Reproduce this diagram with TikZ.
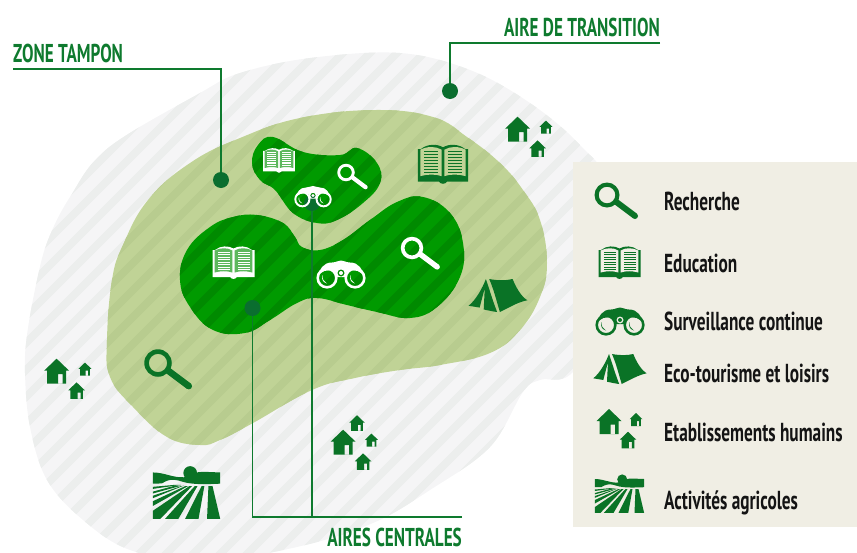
\documentclass[tikz,border=0pt]{standalone}
\usepackage{fontspec}
\setmainfont{PT Sans}[FakeStretch=0.665]
\usetikzlibrary{positioning,calc}

\definecolor{icongreen}{HTML}{0A7326}
\definecolor{linegreen}{HTML}{0E7A2E}
\definecolor{dotgreen}{HTML}{0A6E2F}
\definecolor{panelbg}{HTML}{F0EEE4}
\definecolor{outerbase}{HTML}{F5F5F6}
\definecolor{outerstripe}{HTML}{ECEEED}
\definecolor{midbase}{HTML}{C0D396}
\definecolor{midstripe}{HTML}{B8CC8F}
\definecolor{corebase}{HTML}{009A00}
\definecolor{corestripe}{HTML}{008A00}
\definecolor{pagegreen}{HTML}{5DB85D}

\newcommand{\outerpath}{plot[smooth cycle, tension=.6] coordinates {(400,53) (470,70) (530,103) (580,145) (610,190) (615,300) (573,372) (540,380) (523,392) (490,447) (430,490) (373,523) (297,547) (200,562) (130,550) (83,520) (47,480) (30,427) (25,373) (27,335) (37,280) (48,240) (70,197) (108,148) (200,93) (240,73) (310,58)}}
\newcommand{\midpath}{plot[smooth cycle, tension=.7] coordinates {(375,110) (433,117) (467,137) (500,163) (523,190) (540,220) (547,263) (540,297) (520,330) (490,353) (440,365) (400,370) (355,378) (312,390) (253,423) (220,440) (200,445) (167,437) (133,407) (110,377) (107,340) (112,280) (123,245) (148,200) (190,163) (240,138) (300,118)}}
\newcommand{\coreApath}{plot[smooth cycle, tension=.7] coordinates {(273,137) (303,152) (340,155) (357,148) (377,163) (380,183) (363,203) (337,220) (317,223) (293,213) (275,190) (260,180) (252,163) (258,145)}}
\newcommand{\coreBpath}{plot[smooth cycle, tension=.7] coordinates {(257,215) (283,223) (295,237) (302,247) (320,250) (343,240) (370,220) (397,202) (423,197) (450,213) (463,243) (460,277) (437,307) (410,318) (377,312) (347,305) (317,298) (297,303) (270,320) (245,333) (213,330) (190,307) (180,280) (187,250) (210,227) (233,217)}}

% striped area: path, base colour, stripe colour
\newcommand{\stripedarea}[3]{
    \begin{scope}
        \clip #1;
        \fill[#2] (0,0) rectangle (857,600);
        \foreach \c in {18,45,...,1500} {
            \draw[#3, line width=7.5pt] (\c,0) -- (\c-800,800);
        }
    \end{scope}
}

\tikzset{
    leader/.style={draw=linegreen, line width=1.4pt},
    dotnode/.style={circle, fill=dotgreen, inner sep=0pt, minimum size=16pt},
    zonelabel/.style={font=\bfseries\fontsize{25.8}{25.8}\selectfont, text=linegreen, inner sep=0pt},
    legendlabel/.style={font=\bfseries\fontsize{26}{26}\selectfont, text=black!92, inner sep=0pt, anchor=base west},
    pics/loupe/.style={code={
        \fill[#1, even odd rule] (0,0) circle (12.5) (0,0) circle (8.3);
        \fill[#1] (6.2,8.4) -- (9.8,3.6) -- (29.8,18.6) -- (26.2,23.4) -- cycle;
        \fill[#1] (28,21) circle (3);
    }},
    pics/book/.style 2 args={code={
        \fill[#1] (-21,-12) -- (-18.5,-12) .. controls (-13,-16.5) and (-5,-16.5) .. (0,-13.5)
            .. controls (5,-16.5) and (13,-16.5) .. (18.5,-12) -- (21,-12) -- (21,15) -- (3.5,15)
            .. controls (2,17.5) and (-2,17.5) .. (-3.5,15) -- (-21,15) -- cycle;
        \fill[#2] (-18.8,-11.5) .. controls (-13,-14.5) and (-6,-14.5) .. (-1.2,-11.5) -- (-1.2,10.5)
            .. controls (-6,8.8) and (-13,8.8) .. (-18.8,10.5) -- cycle;
        \fill[#2] (18.8,-11.5) .. controls (13,-14.5) and (6,-14.5) .. (1.2,-11.5) -- (1.2,10.5)
            .. controls (6,8.8) and (13,8.8) .. (18.8,10.5) -- cycle;
        \foreach \y in {-10.5,-8,...,7} {
            \fill[#1] (-16,\y) rectangle (-4,\y+1.3);
            \fill[#1] (4,\y) rectangle (16,\y+1.3);
        }
    }},
    pics/binoc/.style={code={
        \fill[#1, even odd rule] (24,3) .. controls (21,-6) and (18,-12.5) .. (9,-12.5)
            .. controls (5,-12.5) and (3,-14.5) .. (0,-14.5) .. controls (-3,-14.5) and (-5,-12.5) .. (-9,-12.5)
            .. controls (-18,-12.5) and (-21,-6) .. (-24,3) .. controls (-21,-4.5) and (-13,-6) .. (-6,-4)
            -- (-4.5,2) -- (4.5,2) -- (6,-4) .. controls (13,-6) and (21,-4.5) .. (24,3) -- cycle
            (0,-2) circle (3.6);
        \fill[#1] (0,-2) circle (2);
        \fill[#1, even odd rule] (-14,3) circle (10.6) (-14,3) circle (8);
        \fill[#1, even odd rule] (14,3) circle (10.6) (14,3) circle (8);
        \fill[#1] (-18.5,0) .. controls (-19,4) and (-17,7) .. (-14,8.5) .. controls (-18,7.5) and (-20,4) .. cycle;
        \fill[#1] (9.5,0) .. controls (9,4) and (11,7) .. (14,8.5) .. controls (10,7.5) and (8,4) .. cycle;
    }},
    pics/tent/.style={code={
        \fill[#1] (-8,-15) .. controls (0,-13.5) and (7,-13.5) .. (13.3,-15)
            .. controls (16,-8) and (21,1) .. (26.7,4.3) .. controls (18,6) and (10,11) .. (1.7,15)
            .. controls (-1,6) and (-4,-6) .. cycle;
        \fill[#1] (-11,-15) .. controls (-7,-3) and (-4,7) .. (-0.8,15) .. controls (-5,14.5) and (-9,13.5) .. (-13,12.7)
            -- (-12,-7) -- (-16.7,11) -- (-26.7,9.3) .. controls (-20,4) and (-14,-7) .. cycle;
    }},
    pics/house/.style={code={
        \fill[#1, even odd rule] (0,-12.5) -- (12.5,-0.5) -- (9.5,-0.5) -- (9.5,12.5) -- (-9.5,12.5) -- (-9.5,-0.5) -- (-12.5,-0.5) -- cycle
            (1.5,3) rectangle (6,12.5);
    }},
    pics/hamlet/.style={code={
        \pic at (-8,-6.5) {house=#1};
        \pic[scale=.52] at (19,-8.5) {house=#1};
        \pic[scale=.66] at (11,12) {house=#1};
    }},
    pics/farm/.style={code={
        \fill[#1] (2.7,-14.6) circle (5);
        \fill[#1] (-24.6,-15) .. controls (-16,-15) and (-10,-11) .. (-2,-11.5) .. controls (3,-12) and (7,-16) .. (12,-15.5)
            -- (24.6,-15) -- (24.6,-6.8) .. controls (15,-6.5) and (8,-6) .. (0,-7.5) .. controls (-5,-8.5) and (-6,-10) .. (-12,-9.5)
            .. controls (-15,-9) and (-16,-8) .. (-18,-7) -- (-24.6,-6.8) -- cycle;
        \fill[#1] (16,-5) -- (19,-5) -- (24.6,18.8) -- (15,18.8) -- cycle;
        \fill[#1] (11,-5) -- (13,-5) -- (8.8,18.8) -- (-1,18.8) -- cycle;
        \fill[#1] (6,-5) -- (8,-5) -- (-5.9,18.8) -- (-15.6,18.8) -- cycle;
        \fill[#1] (2,-5) -- (4,-5) -- (-19,18.8) -- (-24.6,18.8) -- (-24.6,13) -- cycle;
        \fill[#1] (-1,-5) -- (1,-5) -- (-24.6,9.5) -- (-24.6,6) -- cycle;
        \fill[#1] (-2,-5.4) -- (-4,-5) -- (-24.6,2) -- (-24.6,3.8) -- cycle;
        \fill[#1] (-4,-6) -- (-8,-6) -- (-24.6,-4.5) -- (-24.6,-3) -- cycle;
        \fill[#1] (-8,-5.5) -- (-4,-5.3) -- (-24.6,0.4) -- (-24.6,-1) -- cycle;
    }}
}

\begin{document}
\begin{tikzpicture}[x=1pt, y=-1pt]
    \useasboundingbox (0,0) rectangle (857,552);

    % Areas
    \stripedarea{\outerpath}{outerbase}{outerstripe}
    \stripedarea{\midpath}{midbase}{midstripe}
    \stripedarea{\coreApath}{corebase}{corestripe}
    \stripedarea{\coreBpath}{corebase}{corestripe}

    % Legend panel
    \fill[panelbg] (573,162) rectangle (857,527);

    % Zone labels
    \node[zonelabel, anchor=base west] (tampon) at (13,62) {ZONE TAMPON};
    \coordinate (tamponstart) at (13,69);
    \coordinate (tamponbend) at (221,69);
    \node[dotnode] (tampondot) at (221,180) {};
    \draw[leader] (tamponstart) -- (tamponbend) -- (tampondot);

    \node[zonelabel, anchor=base east] (transition) at (660,36) {AIRE DE TRANSITION};
    \coordinate (transitionend) at (660,43);
    \coordinate (transitionbend) at (450,43);
    \node[dotnode] (transitiondot) at (450,91) {};
    \draw[leader] (transitionend) -- (transitionbend) -- (transitiondot);

    \node[zonelabel, anchor=base east] (centrales) at (462,546.5) {AIRES CENTRALES};
    \coordinate (centralesend) at (462,517);
    \coordinate (centralesbend) at (252.5,517);
    \coordinate (centralesjoin) at (312,517);
    \node[dotnode] (coredotA) at (252.5,308) {};
    \node[dotnode] (coredotB) at (312,203) {};
    \draw[leader] (centralesend) -- (centralesbend) -- (coredotA);
    \draw[leader] (centralesjoin) -- (coredotB);

    % Icons on the map
    \pic at (158,363) [scale=1.1] {loupe=icongreen};
    \pic at (412,248) [scale=.9] {loupe=white};
    \pic at (346,172.5) [scale=.7] {loupe=white};
    \pic at (443,163.5) [scale=1.2] {book={icongreen}{midbase}};
    \pic at (233.5,262) {book={white}{pagegreen}};
    \pic at (279,160) [scale=.76] {book={white}{pagegreen}};
    \pic at (341,275) {binoc=white};
    \pic at (313,197) [scale=.76] {binoc=white};
    \pic at (498,295.5) [scale=1.1] {tent=icongreen};
    \pic at (526,136) [scale=1.05] {hamlet=icongreen};
    \pic at (65,378) [scale=1.05] {hamlet=icongreen};
    \pic at (351.5,449) [scale=1.05] {hamlet=icongreen};
    \pic at (357,423) [scale=.62] {house=icongreen};
    \pic at (186.5,493) [scale=1.37] {farm=icongreen};

    % Legend
    \pic at (607,195) {loupe=icongreen};
    \pic at (619.5,262) {book={icongreen}{panelbg}};
    \pic at (620,322) {binoc=icongreen};
    \pic at (620,369) {tent=icongreen};
    \pic at (617,428) {hamlet=icongreen};
    \pic at (619.5,494) {farm=icongreen};
    \node[legendlabel] (lgsearch) at (664,210) {Recherche};
    \node[legendlabel] (lgedu) at (664,272.7) {Education};
    \node[legendlabel] (lgwatch) at (664,330.7) {Surveillance continue};
    \node[legendlabel] (lgeco) at (664,382.7) {Eco-tourisme et loisirs};
    \node[legendlabel] (lghuman) at (664,441.7) {Etablissements humains};
    \node[legendlabel] (lgfarm) at (664,509) {Activités agricoles};
\end{tikzpicture}
\end{document}
